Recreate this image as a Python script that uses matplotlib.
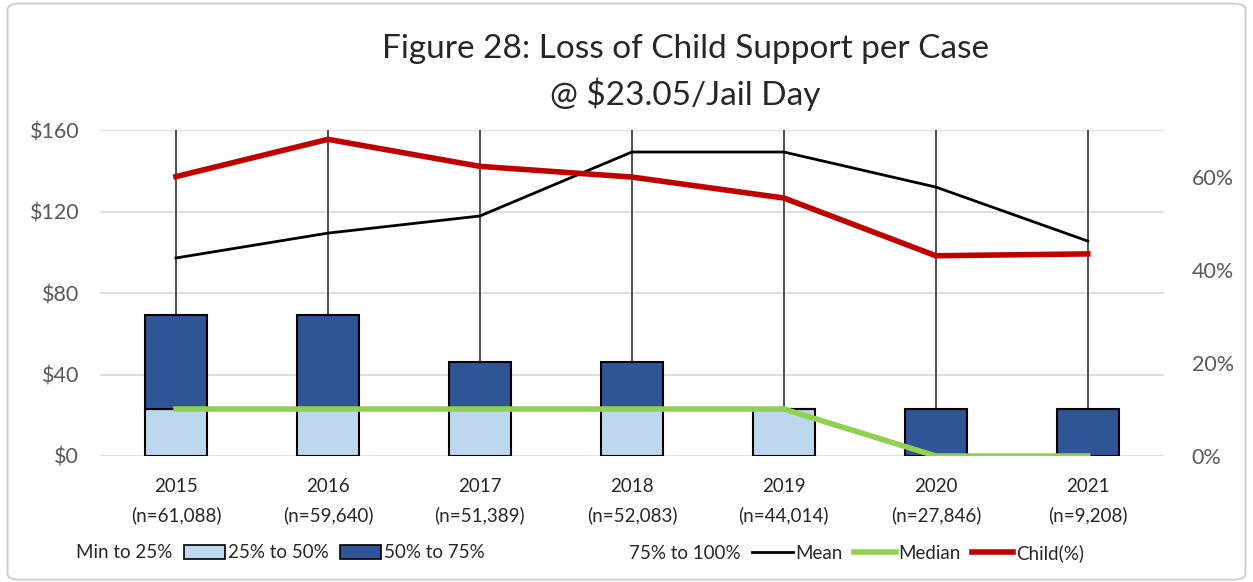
import numpy as np
import matplotlib.pyplot as plt
from matplotlib.patches import Patch, FancyBboxPatch
from matplotlib.lines import Line2D

plt.rcParams['font.family'] = ['Lato', 'DejaVu Sans']

years = ['2015', '2016', '2017', '2018', '2019', '2020', '2021']
counts = ['61,088', '59,640', '51,389', '52,083', '44,014', '27,846', '9,208']

# stacked box pieces ($ per case)
min_to_25 = [0, 0, 0, 0, 0, 0, 0]
q25_to_50 = [23.05, 23.05, 23.05, 23.05, 23.05, 0, 0]
q50_to_75 = [46.10, 46.10, 23.05, 23.05, 0, 23.05, 23.05]
q75_to_100 = [200, 200, 200, 200, 200, 200, 200]  # runs off the top of the chart

mean = [97.2, 109.4, 117.8, 149.2, 149.2, 132.0, 105.5]
median = [23.05, 23.05, 23.05, 23.05, 23.05, 0, 0]
child_pct = [0.60, 0.68, 0.622, 0.599, 0.554, 0.43, 0.434]

light_blue = '#BDD7EE'
dark_blue = '#2F5597'
green = '#92D050'
red = '#C00000'
grid_col = '#D9D9D9'
text_col = '#595959'

fig = plt.figure(figsize=(12.53, 5.82), dpi=100)
ax = fig.add_axes([0.0798, 0.2165, 0.8490, 0.5601])
ax2 = ax.twinx()

x = np.arange(len(years))
w = 0.41

bottom = np.array(min_to_25, dtype=float)
ax.bar(x, q25_to_50, w, bottom=bottom, color=light_blue, edgecolor='black', linewidth=1.5, zorder=3)
bottom = bottom + np.array(q25_to_50)
ax.bar(x, q50_to_75, w, bottom=bottom, color=dark_blue, edgecolor='black', linewidth=1.5, zorder=3)
bottom = bottom + np.array(q50_to_75)
# upper whisker: 75% to 100%
ax.vlines(x, bottom, bottom + np.array(q75_to_100), color='#404040', linewidth=1.3, zorder=2)

ax.plot(x, mean, color='black', linewidth=2, zorder=4)
ax.plot(x, median, color=green, linewidth=4, zorder=5)
ax2.plot(x, child_pct, color=red, linewidth=4, zorder=5)

ax.set_xlim(-0.5, len(years) - 0.5)
ax.set_ylim(0, 160)
ax.set_yticks(np.arange(0, 161, 40))
ax.set_yticklabels(['${}'.format(v) for v in range(0, 161, 40)])
ax2.set_ylim(0, 0.7)
ax2.set_yticks([0, 0.2, 0.4, 0.6])
ax2.set_yticklabels(['0%', '20%', '40%', '60%'])

ax.set_xticks(x)
ax.set_xticklabels(['{}\n(n={})'.format(y, n) for y, n in zip(years, counts)])

ax.grid(axis='y', color=grid_col, linewidth=1.2, zorder=0)
ax.set_axisbelow(True)
for a in (ax, ax2):
    for s in a.spines.values():
        s.set_visible(False)
    a.tick_params(length=0, labelsize=15.5, colors=text_col)
ax.tick_params(axis='x', pad=16, colors='#262626', labelsize=13.5)
ax.tick_params(axis='y', pad=15)
ax2.tick_params(axis='y', pad=20)
for lbl in ax.get_xticklabels():
    lbl.set_linespacing(1.75)

fig.text(0.5467, 0.876, 'Figure 28: Loss of Child Support per Case\n@ $23.05/Jail Day',
         ha='center', va='center', fontsize=24, color='#262626', linespacing=1.48)

# legend split into two groups, as in the original layout
handles_left = [
    Patch(facecolor='none', edgecolor='none'),
    Patch(facecolor=light_blue, edgecolor='black', linewidth=1.2),
    Patch(facecolor=dark_blue, edgecolor='black', linewidth=1.2),
]
labels_left = ['Min to 25%', '25% to 50%', '50% to 75%']
handles_right = [
    Patch(facecolor='none', edgecolor='none'),
    Line2D([], [], color='black', linewidth=2),
    Line2D([], [], color=green, linewidth=4),
    Line2D([], [], color=red, linewidth=4),
]
labels_right = ['75% to 100%', 'Mean', 'Median', 'Child(%)']
leg_kw = dict(ncol=4, frameon=False, fontsize=13.5, handlelength=2.2, handleheight=0.75,
              handletextpad=0.15, columnspacing=0.6, labelcolor='#262626',
              borderpad=0, borderaxespad=0)
leg1 = fig.legend(handles_left, labels_left, loc='center left',
                  bbox_to_anchor=(32 / 1253, 1 - 553 / 582), **leg_kw)
leg2 = fig.legend(handles_right, labels_right, loc='center right',
                  bbox_to_anchor=(1084 / 1253, 1 - 553 / 582), **leg_kw)

border = FancyBboxPatch((0.006, 0.004), 0.988, 0.99, boxstyle='round,pad=0,rounding_size=0.01',
                        transform=fig.transFigure, facecolor='none', edgecolor='#D0D0D0',
                        linewidth=1.5)
fig.patches.append(border)

fig.savefig('out.png', dpi=100)
